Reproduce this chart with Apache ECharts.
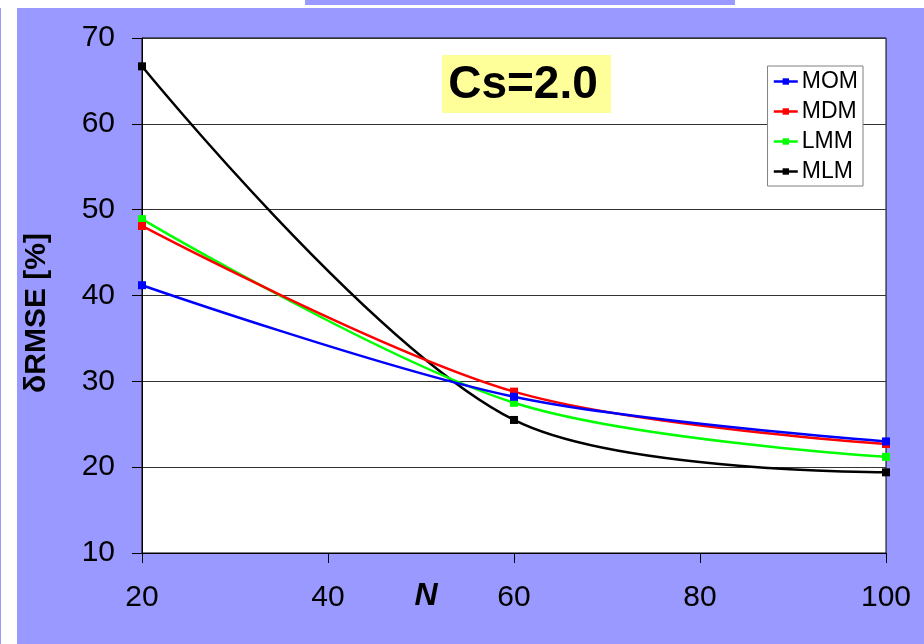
<!DOCTYPE html>
<html>
<head>
<meta charset="utf-8">
<script src="https://cdn.jsdelivr.net/npm/echarts@6/dist/echarts.min.js"></script>
<style>
  html, body { margin: 0; padding: 0; background: #ffffff; }
  #chart { width: 924px; height: 644px; }
</style>
</head>
<body>
<div id="chart"></div>
<script>
// Sample sizes N
const sampleSizes = [20, 60, 100];

// Relative RMSE [%] per estimation method
const momValues = [41.2, 28.2, 23.0];
const mdmValues = [48.1, 28.8, 22.7];
const lmmValues = [48.9, 27.5, 21.2];
const mlmValues = [66.7, 25.5, 19.4];

const seriesNames = ['MOM', 'MDM', 'LMM', 'MLM'];
const seriesColors = ['#0000ff', '#ff0000', '#00ff00', '#000000'];
const seriesValues = [momValues, mdmValues, lmmValues, mlmValues];

const xTicks = { min: 20, max: 100, step: 20 };
const yTicks = { min: 10, max: 70, step: 10 };

const FONT = '"Liberation Sans", Arial, sans-serif';

const chart = echarts.init(document.getElementById('chart'), null, { renderer: 'canvas' });

const series = seriesNames.map((name, i) => ({
  name: name,
  type: 'line',
  smooth: 0.33,
  data: sampleSizes.map((n, j) => [n, seriesValues[i][j]]),
  symbol: 'rect',
  symbolSize: 8,
  showSymbol: true,
  lineStyle: { color: seriesColors[i], width: 2.5 },
  itemStyle: { color: seriesColors[i] },
  z: 3 + (seriesNames.length - i)
}));

chart.setOption({
  backgroundColor: '#9999ff',
  animation: false,
  textStyle: { fontFamily: FONT },
  grid: {
    left: 142, right: 38, top: 38, bottom: 91,
    show: true,
    backgroundColor: '#ffffff',
    borderColor: '#000000',
    borderWidth: 1
  },
  legend: {
    orient: 'vertical',
    right: 61,
    top: 66,
    data: seriesNames,
    itemWidth: 24,
    itemHeight: 8,
    itemGap: 7,
    padding: [4, 5, 3, 5],
    backgroundColor: '#ffffff',
    borderColor: '#808080',
    borderWidth: 1,
    lineStyle: { width: 2.5 },
    textStyle: { fontFamily: FONT, fontSize: 23, color: '#000000', padding: [0, 0, 0, -1] }
  },
  xAxis: {
    type: 'value',
    min: xTicks.min,
    max: xTicks.max,
    interval: xTicks.step,
    axisLine: { show: true, onZero: false, lineStyle: { color: '#000000', width: 1 } },
    axisTick: { show: true, inside: false, length: 10, lineStyle: { color: '#000000' } },
    axisLabel: { fontFamily: FONT, fontSize: 30, color: '#000000', margin: 30 },
    splitLine: { show: false }
  },
  yAxis: {
    type: 'value',
    min: yTicks.min,
    max: yTicks.max,
    interval: yTicks.step,
    axisLine: { show: true, lineStyle: { color: '#000000', width: 1 } },
    axisTick: { show: true, inside: false, length: 10, lineStyle: { color: '#000000' } },
    axisLabel: { fontFamily: FONT, fontSize: 30, color: '#000000', margin: 27 },
    splitLine: { show: true, lineStyle: { color: '#333333', width: 1 } }
  },
  graphic: [
    // page frame strips
    { type: 'rect', left: 1, top: 0, shape: { width: 16, height: 644 }, style: { fill: '#ffffff' }, silent: true },
    { type: 'rect', left: 0, top: 0, shape: { width: 924, height: 8 }, style: { fill: '#ffffff' }, silent: true },
    { type: 'rect', left: 305, top: 0, shape: { width: 430, height: 5 }, style: { fill: '#9999ff' }, silent: true },
    // y-axis title
    {
      type: 'text', x: 37, y: 313, rotation: Math.PI / 2,
      style: { text: 'δRMSE [%]', fill: '#000000', font: 'bold 30px ' + FONT, align: 'center', verticalAlign: 'middle' }
    },
    // shape parameter tag
    {
      type: 'group', left: 442, top: 55, z: 10,
      children: [
        { type: 'rect', shape: { x: 0, y: 0, width: 169, height: 58 }, style: { fill: '#ffff99' } },
        { type: 'text', x: 81, y: 30, style: { text: 'Cs=2.0', fill: '#000000', font: 'bold 46px ' + FONT, align: 'center', verticalAlign: 'middle' } }
      ]
    },
    // x-axis title
    { type: 'text', x: 426, y: 596, style: { text: 'N', fill: '#000000', font: 'italic bold 32px ' + FONT, align: 'center', verticalAlign: 'middle' } }
  ],
  series: series
});
</script>
</body>
</html>
